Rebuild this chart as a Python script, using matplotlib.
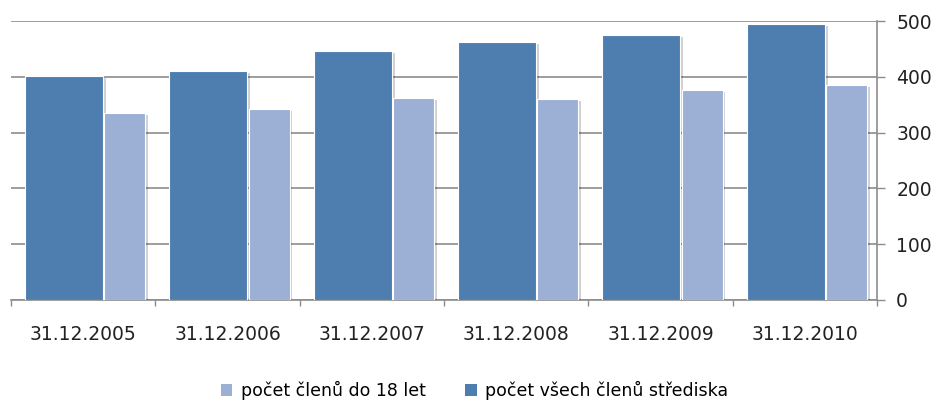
"""Počet členů střediska, 2005-2010."""

import numpy as np
import matplotlib
matplotlib.use("Agg")
import matplotlib.pyplot as plt
import matplotlib.patheffects as pe
from matplotlib.patches import Patch

dates = ["31.12.2005", "31.12.2006", "31.12.2007", "31.12.2008", "31.12.2009", "31.12.2010"]
all_members = [402, 411, 447, 462, 476, 495]
under_18 = [335, 342, 363, 360, 376, 386]
yticks = [0, 100, 200, 300, 400, 500]

DARK = "#4E7DAF"
LIGHT = "#9CB0D5"
GRID = "#8C8C8C"


def main() -> None:
    fig = plt.figure(figsize=(9.38, 4.07), dpi=100)
    ax = fig.add_axes([0.0117, 0.263, 0.9233, 0.685])

    x = np.arange(len(dates))
    shadow = [pe.SimplePatchShadow(offset=(2, -1.5), shadow_rgbFace="#000000", alpha=0.18), pe.Normal()]
    dark = ax.bar(x - 0.132, all_members, width=0.54, color=DARK, edgecolor="white", linewidth=0.8, zorder=3)
    light = ax.bar(x + 0.288, under_18, width=0.284, color=LIGHT, edgecolor="white", linewidth=0.8, zorder=3)
    for b in list(dark) + list(light):
        b.set_path_effects(shadow)

    ax.set_xlim(-0.5, len(dates) - 0.5)
    ax.set_ylim(0, 500)
    ax.set_yticks(yticks)
    ax.yaxis.tick_right()
    ax.tick_params(axis="y", length=5.8, width=1, color=GRID, pad=8, labelsize=13.5, labelcolor="#222222")
    ax.grid(axis="y", color=GRID, linewidth=1.2, zorder=0)

    ax.set_xticks(x)
    ax.set_xticklabels(dates)
    ax.set_xticks(np.arange(-0.5, len(dates)), minor=True)
    ax.tick_params(axis="x", which="major", length=0, pad=18, labelsize=13.5, labelcolor="#222222")
    ax.tick_params(axis="x", which="minor", length=4, width=1, color=GRID)

    for side in ["left", "top"]:
        ax.spines[side].set_visible(False)
    for side in ["right", "bottom"]:
        ax.spines[side].set_color(GRID)
        ax.spines[side].set_linewidth(1.2)

    handles = [Patch(facecolor=LIGHT, edgecolor="none", label="počet členů do 18 let"),
               Patch(facecolor=DARK, edgecolor="none", label="počet všech členů střediska")]
    fig.legend(handles=handles, loc="lower center", bbox_to_anchor=(0.506, -0.022), ncol=2, frameon=False, fontsize=12.5, handlelength=0.65, handleheight=0.65, handletextpad=0.5, columnspacing=2.3)

    fig.savefig("out.png", dpi=100)
    plt.close(fig)


if __name__ == "__main__":
    main()
